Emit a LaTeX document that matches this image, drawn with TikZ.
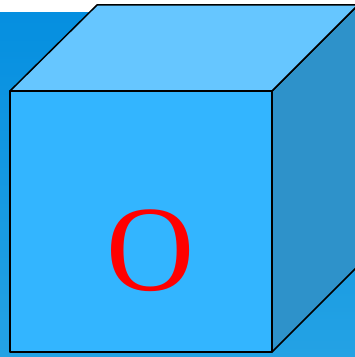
\documentclass[tikz,border=0pt]{standalone}
\usepackage{fontspec}
\setmainfont{Liberation Serif}
\definecolor{bgtop}{RGB}{5,143,224}
\definecolor{bgbottom}{RGB}{36,162,228}
\definecolor{facefront}{RGB}{51,181,255}
\definecolor{facetop}{RGB}{102,198,255}
\definecolor{faceside}{RGB}{46,146,202}
\begin{document}
\begin{tikzpicture}[x=1pt, y=1pt, line join=round]
			\tikzset{
				face/.style={draw=black, line width=1.5pt},
				letter/.style={text=red, font=\fontsize{122}{122}\selectfont, inner sep=0},
			}
			\useasboundingbox (0,0) rectangle (355,357);
			\clip (0,0) rectangle (355,357);
			% background
			\shade[top color=bgtop, bottom color=bgbottom] (0,0) rectangle (355,344);
			% cube faces
			\draw[face, fill=faceside] (272,5) -- (372,105) -- (372,352) -- (358,352) -- (272,266) -- cycle;
			\draw[face, fill=facetop] (10,266) -- (97,352) -- (372,352) -- (358,352) -- (272,266) -- cycle;
			\draw[face, fill=facefront] (10,5) rectangle (272,266);
			\node[letter] (label) at (151,106) {O};
\end{tikzpicture}
\end{document}
